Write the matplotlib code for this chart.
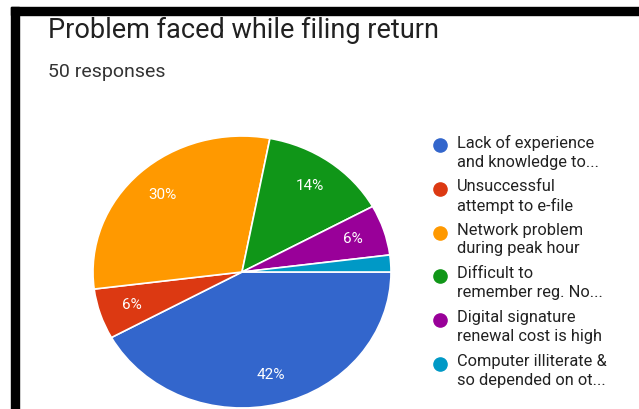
import matplotlib.pyplot as plt
from matplotlib.patches import Rectangle

plt.rcParams['font.family'] = ['Roboto', 'DejaVu Sans']

# survey answers
labels = [
    "Lack of experience\nand knowledge to...",
    "Unsuccessful\nattempt to e-file",
    "Network problem\nduring peak hour",
    "Difficult to\nremember reg. No...",
    "Digital signature\nrenewal cost is high",
    "Computer illiterate &\nso depended on ot...",
]
shares = [42, 6, 30, 14, 6, 2]
colors = ['#3366CC', '#DC3912', '#FF9900', '#109618', '#990099', '#0099C6']

W, H = 639, 409
fig = plt.figure(figsize=(W / 100, H / 100), dpi=100)

# pie, slightly stretched horizontally
ax = fig.add_axes([93 / W, (H - 408) / H, 298 / W, 272 / H])
wedges, texts, autotexts = ax.pie(
    shares, colors=colors, startangle=0, counterclock=False,
    autopct=lambda p: '%d%%' % round(p) if p >= 5 else '',
    pctdistance=0.78,
    wedgeprops=dict(edgecolor='white', linewidth=1.2),
    textprops=dict(color='white', fontsize=11),
)
ax.set_aspect('auto')
ax.set_xlim(-1, 1)
ax.set_ylim(-1, 1)

# overlay in pixel coords for frame, titles and legend
ov = fig.add_axes([0, 0, 1, 1], zorder=-1)
ov.set_xlim(0, W)
ov.set_ylim(H, 0)
ov.axis('off')
ov.add_patch(Rectangle((11, 7), W - 11, 8, color='black'))
ov.add_patch(Rectangle((11, 7), 8, H - 7, color='black'))

fig.text(48 / W, 1 - 38 / H, "Problem faced while filing return",
         fontsize=19.5, color='#212121', va='baseline')
fig.text(48 / W, 1 - 77 / H, "50 responses",
         fontsize=14, color='#333333', va='baseline')

leg = fig.add_axes([0, 0, 1, 1])
leg.set_xlim(0, W)
leg.set_ylim(H, 0)
leg.axis('off')
for i, (lab, c) in enumerate(zip(labels, colors)):
    y = 145 + i * 43.8
    leg.plot(440, y, 'o', color=c, markersize=9.5)
    leg.text(457, y - 10, lab, fontsize=11.8, color='#222222',
             va='top', linespacing=1.3)

fig.savefig('out.png', dpi=100)
